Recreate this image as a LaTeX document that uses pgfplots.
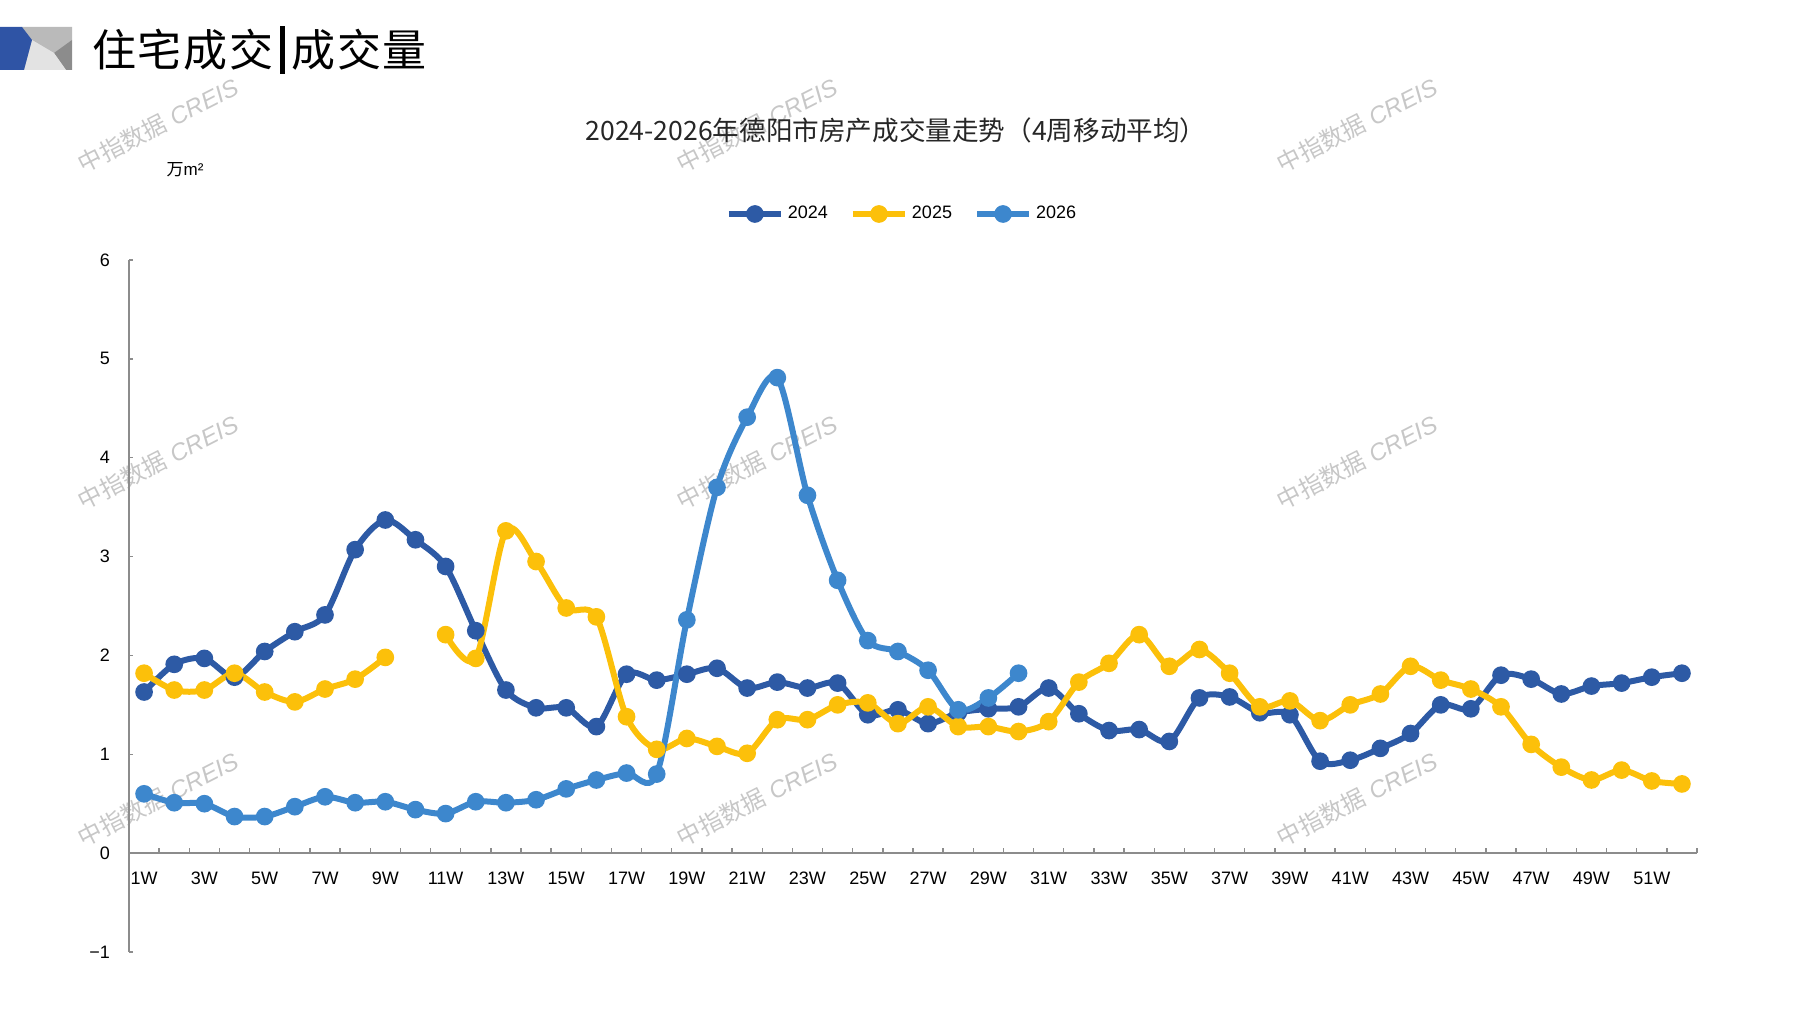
\documentclass[border=0pt]{standalone}
\usepackage{fontspec}
\setmainfont{Liberation Sans}
\newfontfamily\cjk{Noto Sans CJK SC}
\usepackage{pgfplots}
\pgfplotsset{compat=1.18}
\definecolor{cA}{RGB}{45,90,165}
\definecolor{cB}{RGB}{252,192,10}
\definecolor{cC}{RGB}{61,135,205}
\definecolor{icblue}{RGB}{47,84,165}
\definecolor{axgray}{RGB}{140,140,140}
\begin{document}
\begin{tikzpicture}
\path[use as bounding box] (0,0) rectangle (898.5pt,505pt);
% watermarks
\foreach \x in {79,378.5,678.5}{\foreach \y in {442.5,274,105.5}{
  \node[rotate=27, text=black!22, font=\fontsize{12}{14}\selectfont] at (\x pt,\y pt) {{\cjk 中指数据} \textit{CREIS}};}}
% header icon
\fill[black!20] (11pt,491.5pt) rectangle (36pt,470pt);
\fill[black!27] (11pt,491.5pt) -- (36pt,491.5pt) -- (36pt,485pt) -- (27pt,478.5pt) -- (16pt,485pt) -- cycle;
\fill[black!45] (36pt,485pt) -- (27pt,478.5pt) -- (33pt,470pt) -- (36pt,470pt) -- cycle;
\fill[black!11] (16pt,485pt) -- (27pt,478.5pt) -- (33pt,470pt) -- (12pt,470pt) -- cycle;
\fill[icblue] (0pt,491.5pt) -- (11pt,491.5pt) -- (16pt,485pt) -- (12pt,470pt) -- (0pt,470pt) -- cycle;
% main title
\node[anchor=west, inner sep=0pt, font=\cjk\fontsize{22}{25}\selectfont] at (46pt,480pt)
  {住\hspace{0.8pt}宅\hspace{0.8pt}成\hspace{0.8pt}交\hspace{3.5pt}\rule[-3.5pt]{2.2pt}{24pt}\hspace{3.5pt}成\hspace{0.8pt}交\hspace{0.8pt}量};
% chart title
\node[font=\cjk\fontsize{13.3}{16}\selectfont, text=black!85] at (448pt,440pt) {2024-2026年德阳市房产成交量走势（4周移动平均）};
% unit
\node[font=\fontsize{8.5}{10}\selectfont] at (92.5pt,420pt) {{\cjk 万}m²};
\begin{axis}[
  at={(64.5pt,29pt)}, anchor=south west,
  scale only axis, width=784pt, height=346pt,
  xmin=0.5, xmax=52.5, ymin=-1, ymax=6,
  axis x line=middle, axis y line=left,
  axis line style={-, draw=axgray, line width=0.9pt},
  xtick={1,3,...,51},
  xticklabels={1W,3W,5W,7W,9W,11W,13W,15W,17W,19W,21W,23W,25W,27W,29W,31W,33W,35W,37W,39W,41W,43W,45W,47W,49W,51W},
  major x tick style={draw=none},
  minor xtick={1.5,2.5,...,52.5},
  minor x tick style={draw=axgray, line width=0.7pt},
  minor tick length=2.6pt,
  xtick align=inside, ytick align=inside,
  ytick={-1,0,1,2,3,4,5,6},
  yticklabels={−1,0,1,2,3,4,5,6},
  major y tick style={draw=axgray, line width=0.7pt},
  major tick length=2.2pt,
  ticklabel style={font=\fontsize{9}{11}\selectfont, text=black},
  xticklabel style={yshift=-6pt},
  yticklabel style={xshift=-6pt},
  clip=false,
  legend columns=3,
  legend style={at={(0.5,1)}, anchor=center, yshift=23pt, xshift=-5pt, draw=none,
    font=\fontsize{9}{11}\selectfont, /tikz/every even column/.append style={column sep=9pt}},
  legend image code/.code={\draw[mark repeat=2,mark phase=2,#1] plot coordinates {(0pt,0pt) (13pt,0pt) (26pt,0pt)};},
  every axis plot/.append style={line width=3pt, smooth, tension=0.5, mark=*, mark size=2.9pt},
]
\addplot[cA, mark options={fill=cA, draw=cA}] coordinates {
(1,1.63)(2,1.91)(3,1.97)(4,1.78)(5,2.04)(6,2.24)(7,2.41)(8,3.07)(9,3.37)(10,3.17)
(11,2.90)(12,2.25)(13,1.65)(14,1.47)(15,1.47)(16,1.28)(17,1.81)(18,1.75)(19,1.81)(20,1.87)
(21,1.67)(22,1.73)(23,1.67)(24,1.72)(25,1.40)(26,1.45)(27,1.31)(28,1.42)(29,1.46)(30,1.48)
(31,1.67)(32,1.41)(33,1.24)(34,1.25)(35,1.13)(36,1.57)(37,1.58)(38,1.42)(39,1.40)(40,0.93)
(41,0.94)(42,1.06)(43,1.21)(44,1.50)(45,1.46)(46,1.80)(47,1.76)(48,1.61)(49,1.69)(50,1.72)
(51,1.78)(52,1.82)};
\addlegendentry{2024}
\addplot[cB, mark options={fill=cB, draw=cB}] coordinates {
(1,1.82)(2,1.65)(3,1.65)(4,1.82)(5,1.63)(6,1.53)(7,1.66)(8,1.76)(9,1.98)};
\addlegendentry{2025}
\addplot[cB, mark options={fill=cB, draw=cB}, forget plot] coordinates {
(11,2.21)(12,1.97)(13,3.26)(14,2.95)(15,2.48)(16,2.39)(17,1.38)(18,1.05)(19,1.16)(20,1.08)
(21,1.01)(22,1.35)(23,1.35)(24,1.50)(25,1.52)(26,1.31)(27,1.48)(28,1.28)(29,1.28)(30,1.23)
(31,1.33)(32,1.73)(33,1.92)(34,2.21)(35,1.89)(36,2.06)(37,1.82)(38,1.48)(39,1.54)(40,1.34)
(41,1.50)(42,1.61)(43,1.89)(44,1.75)(45,1.66)(46,1.48)(47,1.10)(48,0.87)(49,0.74)(50,0.84)
(51,0.73)(52,0.70)};
\addplot[cC, mark options={fill=cC, draw=cC}] coordinates {
(1,0.60)(2,0.51)(3,0.50)(4,0.37)(5,0.37)(6,0.47)(7,0.57)(8,0.51)(9,0.52)(10,0.44)
(11,0.40)(12,0.52)(13,0.51)(14,0.54)(15,0.65)(16,0.74)(17,0.81)(18,0.80)(19,2.36)(20,3.70)
(21,4.41)(22,4.81)(23,3.62)(24,2.76)(25,2.15)(26,2.04)(27,1.85)(28,1.45)(29,1.57)(30,1.82)};
\addlegendentry{2026}
\end{axis}
\end{tikzpicture}
\end{document}
